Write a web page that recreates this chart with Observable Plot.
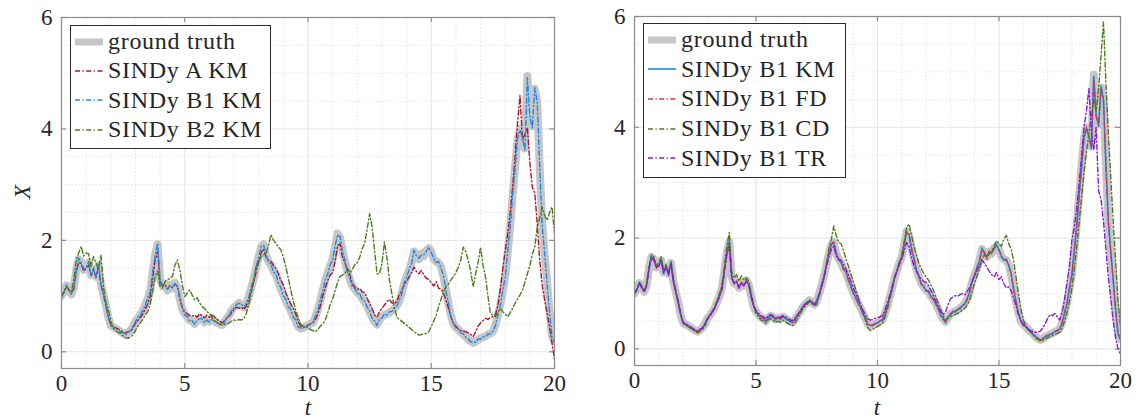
<!DOCTYPE html>
<html>
<head>
<meta charset="utf-8">
<script src="https://cdn.jsdelivr.net/npm/d3@7"></script>
<script src="https://cdn.jsdelivr.net/npm/@observablehq/plot@0.6"></script>
<style>
  body { margin: 0; background: #fff; }
  #wrap { position: relative; width: 1141px; height: 419px; overflow: hidden; font-family: "Liberation Serif", "Times New Roman", "DejaVu Serif", serif; color: #262626; }
  #wrap > .panel { position: absolute; top: 0; }
  #wrap svg text { font-family: "Liberation Serif", "Times New Roman", "DejaVu Serif", serif; }
  .legend { position: absolute; background: #fff; border: 1px solid #2b2b2b; box-sizing: border-box; padding: 1px 0 0 3px; }
  .legend .row { height: 29.4px; display: flex; align-items: center; font-size: 24px; letter-spacing: 0.7px; white-space: nowrap; }
  .legend .row svg { flex: none; margin-right: 4px; }
  .lab { position: absolute; font-style: italic; font-size: 23px; line-height: 0.75; }
</style>
</head>
<body>
<div id="wrap"></div>
<script>
// sample step of all series (t = index * dt, from 0 to 20)
const dt = 0.1;
const xTicks = [0, 5, 10, 15, 20];
const yTicks = [0, 2, 4, 6];
const xMinor = [1, 2, 3, 4, 6, 7, 8, 9, 11, 12, 13, 14, 16, 17, 18, 19];
const yMinor = [0.5, 1, 1.5, 2.5, 3, 3.5, 4.5, 5, 5.5];

const groundTruth = [1.00,1.08,1.19,1.12,1.03,1.15,1.48,1.66,1.62,1.47,
 1.52,1.60,1.38,1.49,1.35,1.55,1.22,1.02,0.84,0.62,
 0.47,0.44,0.42,0.39,0.36,0.33,0.31,0.35,0.38,0.45,
 0.55,0.60,0.67,0.74,0.85,0.95,1.10,1.42,1.75,1.93,
 1.30,1.18,1.22,1.10,1.20,1.14,1.24,1.16,0.95,0.76,
 0.68,0.62,0.57,0.55,0.50,0.56,0.60,0.58,0.53,0.56,
 0.54,0.58,0.56,0.52,0.50,0.48,0.53,0.60,0.66,0.74,
 0.80,0.83,0.88,0.84,0.80,0.86,1.00,1.15,1.32,1.52,
 1.72,1.88,1.93,1.72,1.62,1.56,1.45,1.38,1.25,1.13,
 1.02,0.92,0.83,0.74,0.64,0.55,0.45,0.42,0.43,0.45,
 0.47,0.50,0.52,0.63,0.76,0.92,1.10,1.28,1.42,1.55,
 1.66,1.88,2.12,2.05,1.82,1.62,1.44,1.30,1.18,1.12,
 1.06,1.03,0.95,0.89,0.82,0.72,0.62,0.54,0.49,0.56,
 0.63,0.66,0.68,0.70,0.74,0.77,0.83,0.90,1.05,1.22,
 1.35,1.46,1.60,1.80,1.74,1.66,1.76,1.72,1.82,1.86,
 1.80,1.66,1.62,1.60,1.52,1.34,1.10,0.85,0.65,0.50,
 0.44,0.40,0.35,0.31,0.27,0.22,0.19,0.16,0.18,0.22,
 0.24,0.26,0.28,0.31,0.33,0.36,0.48,0.64,0.84,1.08,
 1.35,1.78,2.24,2.78,3.31,3.80,4.00,3.82,3.65,4.95,
 4.20,4.05,4.72,4.50,3.30,2.30,1.75,1.25,0.70,0.28,
 0.18];

const sindyA_KM = [1.00,1.07,1.17,1.11,1.04,1.13,1.44,1.60,1.58,1.45,
 1.50,1.56,1.37,1.46,1.34,1.52,1.21,1.03,0.83,0.63,
 0.48,0.45,0.43,0.41,0.38,0.35,0.34,0.36,0.37,0.43,
 0.51,0.56,0.62,0.68,0.77,0.86,1.00,1.32,1.65,1.80,
 1.26,1.18,1.20,1.12,1.19,1.15,1.22,1.17,0.98,0.80,
 0.72,0.68,0.65,0.64,0.66,0.62,0.68,0.65,0.61,0.66,
 0.62,0.66,0.63,0.58,0.56,0.52,0.55,0.60,0.64,0.70,
 0.76,0.80,0.78,0.80,0.76,0.82,0.94,1.10,1.25,1.44,
 1.62,1.78,1.85,1.70,1.64,1.62,1.55,1.50,1.40,1.28,
 1.20,1.06,0.95,0.86,0.78,0.68,0.55,0.46,0.44,0.45,
 0.48,0.50,0.53,0.58,0.68,0.82,1.00,1.15,1.28,1.38,
 1.42,1.62,1.90,1.94,1.70,1.60,1.45,1.38,1.22,1.16,
 1.12,1.14,1.08,1.06,0.96,0.87,0.78,0.66,0.62,0.72,
 0.78,0.84,0.90,0.94,0.88,0.86,0.90,1.02,1.10,1.20,
 1.26,1.34,1.42,1.52,1.44,1.40,1.46,1.38,1.32,1.30,
 1.24,1.18,1.26,1.14,1.12,1.05,0.92,0.78,0.62,0.51,
 0.46,0.40,0.38,0.37,0.36,0.34,0.31,0.27,0.36,0.46,
 0.52,0.56,0.60,0.58,0.62,0.63,0.66,0.82,1.12,1.48,
 1.80,2.10,2.48,2.95,3.50,4.10,4.60,3.80,3.90,4.02,
 3.40,2.95,2.85,2.30,1.64,1.20,0.93,0.70,0.45,0.15,
 -0.15];

const sindyB1_KM = [1.00,1.06,1.20,1.10,1.04,1.17,1.45,1.68,1.60,1.49,
 1.50,1.62,1.36,1.51,1.33,1.57,1.20,1.04,0.82,0.63,
 0.46,0.45,0.41,0.40,0.35,0.34,0.30,0.36,0.37,0.46,
 0.54,0.62,0.66,0.75,0.84,0.97,1.08,1.44,1.73,1.95,
 1.28,1.20,1.21,1.12,1.18,1.16,1.22,1.18,0.93,0.78,
 0.66,0.63,0.55,0.56,0.49,0.57,0.59,0.60,0.52,0.57,
 0.53,0.59,0.55,0.53,0.49,0.49,0.52,0.61,0.65,0.75,
 0.79,0.85,0.87,0.86,0.79,0.88,0.98,1.17,1.30,1.54,
 1.70,1.90,1.91,1.74,1.60,1.58,1.43,1.40,1.23,1.15,
 1.00,0.94,0.81,0.76,0.62,0.57,0.44,0.43,0.42,0.46,
 0.46,0.51,0.51,0.65,0.74,0.94,1.08,1.30,1.40,1.57,
 1.64,1.90,2.10,2.07,1.80,1.64,1.42,1.32,1.16,1.14,
 1.04,1.05,0.93,0.91,0.80,0.74,0.60,0.56,0.47,0.58,
 0.61,0.68,0.66,0.72,0.72,0.79,0.81,0.92,1.03,1.24,
 1.33,1.48,1.58,1.82,1.72,1.68,1.74,1.74,1.80,1.88,
 1.78,1.68,1.60,1.62,1.50,1.36,1.08,0.87,0.63,0.52,
 0.42,0.41,0.34,0.32,0.26,0.23,0.18,0.17,0.17,0.23,
 0.23,0.27,0.27,0.32,0.32,0.37,0.46,0.66,0.82,1.10,
 1.33,1.80,2.22,2.80,3.28,3.82,3.98,3.84,3.62,4.92,
 4.22,4.02,4.74,4.48,3.32,2.28,1.77,1.23,0.72,0.26,
 0.16];

const sindyB2_KM = [0.98,1.08,1.17,1.12,1.08,1.30,1.65,1.78,1.89,1.72,
 1.77,1.76,1.53,1.71,1.60,1.47,1.74,1.17,0.90,0.75,
 0.55,0.42,0.38,0.35,0.33,0.28,0.25,0.24,0.27,0.30,
 0.38,0.46,0.52,0.58,0.66,0.72,0.85,1.10,1.35,1.45,
 1.18,1.14,1.26,1.29,1.32,1.35,1.55,1.65,1.47,1.20,
 0.99,1.05,1.11,1.02,0.93,0.97,0.88,0.81,0.78,0.72,
 0.69,0.62,0.56,0.52,0.50,0.48,0.49,0.50,0.52,0.55,
 0.57,0.56,0.58,0.57,0.60,0.69,0.85,1.05,1.30,1.53,
 1.62,1.71,1.74,1.77,1.92,2.10,2.00,1.95,1.88,1.83,
 1.70,1.53,1.32,1.11,0.92,0.75,0.62,0.50,0.46,0.45,
 0.43,0.40,0.38,0.36,0.40,0.46,0.50,0.57,0.70,0.85,
 0.95,1.10,1.25,1.35,1.38,1.40,1.50,1.42,1.48,1.56,
 1.60,1.70,1.85,1.95,2.20,2.48,2.24,1.82,1.40,1.40,
 1.58,1.97,1.70,1.30,1.05,0.80,0.63,0.58,0.55,0.51,
 0.48,0.44,0.40,0.36,0.33,0.30,0.31,0.32,0.33,0.36,
 0.45,0.55,0.66,0.81,0.95,1.08,1.17,1.22,1.29,1.35,
 1.42,1.52,1.65,1.88,1.80,1.64,1.45,1.17,1.40,1.60,
 1.88,1.55,1.35,1.00,0.69,0.66,0.63,0.70,0.78,0.72,
 0.68,0.63,0.70,0.78,0.87,0.95,1.02,1.10,1.25,1.40,
 1.55,1.75,1.88,2.24,2.40,2.60,2.45,2.36,2.50,2.60,
 2.12];

const sindyB1_FD = [1.01,1.07,1.18,1.13,1.02,1.16,1.47,1.65,1.63,1.46,
 1.53,1.59,1.39,1.48,1.36,1.54,1.23,1.01,0.85,0.61,
 0.48,0.43,0.43,0.38,0.37,0.32,0.32,0.34,0.39,0.44,
 0.56,0.59,0.68,0.73,0.86,0.94,1.11,1.41,1.76,1.91,
 1.31,1.17,1.23,1.09,1.21,1.13,1.25,1.15,0.96,0.75,
 0.69,0.61,0.58,0.54,0.51,0.55,0.61,0.57,0.54,0.55,
 0.55,0.57,0.57,0.51,0.51,0.47,0.54,0.59,0.67,0.73,
 0.81,0.82,0.89,0.83,0.81,0.85,1.01,1.14,1.33,1.51,
 1.73,1.87,1.95,1.71,1.63,1.55,1.46,1.37,1.26,1.12,
 1.03,0.91,0.84,0.73,0.65,0.54,0.46,0.41,0.44,0.44,
 0.48,0.49,0.53,0.62,0.77,0.91,1.11,1.27,1.43,1.54,
 1.67,1.87,2.13,2.04,1.83,1.61,1.45,1.29,1.19,1.11,
 1.07,1.02,0.96,0.88,0.83,0.71,0.63,0.53,0.50,0.55,
 0.64,0.65,0.69,0.69,0.75,0.76,0.84,0.89,1.06,1.21,
 1.36,1.45,1.61,1.79,1.75,1.65,1.77,1.71,1.83,1.85,
 1.81,1.65,1.63,1.59,1.53,1.33,1.11,0.84,0.66,0.49,
 0.45,0.39,0.36,0.30,0.28,0.21,0.20,0.15,0.19,0.21,
 0.25,0.25,0.29,0.30,0.34,0.35,0.49,0.63,0.85,1.07,
 1.36,1.77,2.25,2.77,3.32,3.79,4.01,3.81,3.66,4.90,
 4.18,4.07,4.70,4.52,3.28,2.32,1.73,1.27,0.68,0.30,
 0.19];

const sindyB1_CD = [1.00,1.09,1.20,1.14,1.03,1.16,1.50,1.70,1.66,1.50,
 1.55,1.66,1.42,1.52,1.38,1.58,1.28,1.06,0.86,0.62,
 0.46,0.43,0.40,0.37,0.35,0.31,0.29,0.32,0.35,0.42,
 0.52,0.60,0.68,0.76,0.88,1.00,1.16,1.50,1.85,2.10,
 1.40,1.28,1.34,1.22,1.32,1.24,1.28,1.22,1.02,0.80,
 0.64,0.58,0.52,0.50,0.46,0.52,0.55,0.52,0.48,0.50,
 0.48,0.52,0.50,0.46,0.44,0.42,0.46,0.54,0.62,0.70,
 0.76,0.80,0.86,0.82,0.78,0.80,0.95,1.12,1.30,1.55,
 1.80,1.98,2.22,2.05,1.92,1.90,1.78,1.62,1.50,1.36,
 1.22,1.08,0.94,0.80,0.66,0.52,0.38,0.33,0.35,0.38,
 0.40,0.43,0.46,0.56,0.70,0.88,1.06,1.26,1.42,1.56,
 1.70,1.95,2.20,2.25,2.05,1.85,1.70,1.55,1.45,1.36,
 1.30,1.24,1.15,1.06,0.95,0.82,0.70,0.60,0.52,0.55,
 0.58,0.60,0.62,0.64,0.67,0.70,0.74,0.80,0.90,1.05,
 1.20,1.32,1.45,1.62,1.70,1.62,1.72,1.78,1.85,1.95,
 1.90,1.85,1.98,2.05,1.90,1.80,1.60,1.30,1.00,0.72,
 0.52,0.42,0.36,0.30,0.25,0.20,0.17,0.14,0.15,0.18,
 0.20,0.22,0.24,0.26,0.28,0.30,0.38,0.50,0.66,0.86,
 1.10,1.45,1.85,2.30,2.74,3.20,3.55,3.90,4.20,4.50,
 4.30,4.70,5.30,5.90,4.80,3.90,3.10,2.30,1.60,0.85,
 0.40];

const sindyB1_TR = [1.00,1.07,1.18,1.11,1.03,1.14,1.46,1.64,1.60,1.46,
 1.50,1.58,1.37,1.47,1.34,1.53,1.22,1.03,0.85,0.63,
 0.48,0.45,0.43,0.40,0.37,0.34,0.32,0.35,0.38,0.45,
 0.54,0.59,0.66,0.73,0.84,0.94,1.08,1.38,1.70,1.85,
 1.28,1.18,1.21,1.10,1.19,1.14,1.22,1.16,0.96,0.78,
 0.70,0.64,0.60,0.58,0.54,0.60,0.62,0.60,0.56,0.58,
 0.57,0.60,0.58,0.55,0.53,0.51,0.55,0.61,0.67,0.74,
 0.80,0.82,0.86,0.83,0.80,0.85,0.98,1.12,1.28,1.48,
 1.66,1.80,1.85,1.68,1.62,1.60,1.52,1.44,1.34,1.22,
 1.10,1.00,0.90,0.80,0.70,0.62,0.54,0.52,0.53,0.55,
 0.56,0.58,0.60,0.70,0.82,0.96,1.12,1.28,1.40,1.52,
 1.62,1.78,1.92,1.84,1.65,1.50,1.40,1.32,1.26,1.22,
 1.20,1.14,1.05,0.96,0.86,0.76,0.68,0.62,0.66,0.80,
 0.90,0.94,0.96,0.95,0.98,1.00,0.98,1.04,1.12,1.22,
 1.32,1.42,1.50,1.60,1.55,1.48,1.40,1.34,1.30,1.38,
 1.25,1.30,1.18,1.10,1.12,1.05,0.92,0.78,0.62,0.50,
 0.45,0.40,0.36,0.33,0.31,0.30,0.30,0.32,0.38,0.45,
 0.55,0.62,0.60,0.64,0.58,0.52,0.66,0.90,1.20,1.50,
 1.96,2.20,2.55,3.00,3.50,4.00,4.30,4.70,3.90,3.60,
 4.00,2.85,2.70,2.30,1.80,1.30,0.90,0.50,0.20,0.00,
 -0.10];

const C = {
  truth: "#c6c6c6", red: "#a8172f", blue: "#1c8ae6", green: "#4b7d18", pink: "#d2334f", purple: "#8b17d6"
};
const DASHDOT = "5,2.5,1.2,2.5";

const leftSeries = [
  {name: "ground truth", values: groundTruth, color: C.truth, width: 8, dash: null},
  {name: "SINDy A KM", values: sindyA_KM, color: C.red, width: 1.4, dash: DASHDOT},
  {name: "SINDy B1 KM", values: sindyB1_KM, color: C.blue, width: 1.4, dash: DASHDOT},
  {name: "SINDy B2 KM", values: sindyB2_KM, color: C.green, width: 1.4, dash: DASHDOT}
];
const rightSeries = [
  {name: "ground truth", values: groundTruth, color: C.truth, width: 8, dash: null},
  {name: "SINDy B1 KM", values: sindyB1_KM, color: C.blue, width: 1.6, dash: null},
  {name: "SINDy B1 FD", values: sindyB1_FD, color: C.pink, width: 1.2, dash: DASHDOT},
  {name: "SINDy B1 CD", values: sindyB1_CD, color: C.green, width: 1.4, dash: DASHDOT},
  {name: "SINDy B1 TR", values: sindyB1_TR, color: C.purple, width: 1.4, dash: DASHDOT}
];

const xDomain = [0, 20], yDomain = [-0.3, 6];
const FONT = "'Liberation Serif', 'Times New Roman', 'DejaVu Serif', serif";

function panel(series, w, h, m) {
  const frameColor = "#8c8c8c";
  const pxX = (xDomain[1] - xDomain[0]) / (w - m.l - m.r);
  const pxY = (yDomain[1] - yDomain[0]) / (h - m.t - m.b);
  const tl = 5; // inward tick length in px
  return Plot.plot({
    width: w, height: h,
    marginLeft: m.l, marginRight: m.r, marginTop: m.t, marginBottom: m.b,
    x: {domain: xDomain, ticks: xTicks, tickSize: 0, tickPadding: 6, label: null, tickFormat: d => String(d)},
    y: {domain: yDomain, ticks: yTicks, tickSize: 0, tickPadding: 9, label: null, tickFormat: d => String(d)},
    style: {fontFamily: FONT, fontSize: "23px", color: "#262626", background: "transparent"},
    marks: [
      Plot.ruleY(yMinor, {stroke: "#dcdcdc", strokeWidth: 0.8, strokeDasharray: "1.5,2"}),
      Plot.ruleX(xMinor, {stroke: "#dcdcdc", strokeWidth: 0.8, strokeDasharray: "1.5,2"}),
      Plot.ruleY(yTicks, {stroke: "#e4e4e4", strokeWidth: 1}),
      Plot.ruleX(xTicks, {stroke: "#e4e4e4", strokeWidth: 1}),
      ...series.map(s => Plot.line(s.values, {
        x: (d, i) => i * dt, y: d => d,
        stroke: s.color, strokeWidth: s.width,
        strokeDasharray: s.dash, strokeLinejoin: "round", strokeLinecap: "round", clip: true
      })),
      Plot.frame({stroke: frameColor, strokeWidth: 1.2}),
      Plot.ruleX(xTicks, {x: d => d, y1: yDomain[0], y2: yDomain[0] + tl * pxY, stroke: frameColor, strokeWidth: 1.2}),
      Plot.ruleX(xTicks, {x: d => d, y1: yDomain[1] - tl * pxY, y2: yDomain[1], stroke: frameColor, strokeWidth: 1.2}),
      Plot.ruleY(yTicks, {y: d => d, x1: xDomain[0], x2: xDomain[0] + tl * pxX, stroke: frameColor, strokeWidth: 1.2}),
      Plot.ruleY(yTicks, {y: d => d, x1: xDomain[1] - tl * pxX, x2: xDomain[1], stroke: frameColor, strokeWidth: 1.2})
    ]
  });
}

function legend(series, box) {
  const div = document.createElement("div");
  div.className = "legend";
  Object.assign(div.style, {left: box.x + "px", top: box.y + "px", width: box.w + "px", height: box.h + "px"});
  for (const s of series) {
    const row = document.createElement("div");
    row.className = "row";
    row.style.height = box.row + "px";
    const svg = d3.create("svg").attr("width", 30).attr("height", 10);
    svg.append("line").attr("x1", 1).attr("x2", 29).attr("y1", 5).attr("y2", 5)
      .attr("stroke", s.color).attr("stroke-width", s.width > 4 ? 7 : Math.max(1.3, s.width))
      .attr("stroke-dasharray", s.dash);
    row.appendChild(svg.node());
    const span = document.createElement("span");
    span.textContent = s.name;
    row.appendChild(span);
    div.appendChild(row);
  }
  return div;
}

const wrap = document.getElementById("wrap");
const left = panel(leftSeries, 570, 419, {l: 61, r: 16, t: 17, b: 51});
left.classList.add("panel"); left.style.left = "0px";
const right = panel(rightSeries, 571, 419, {l: 64, r: 21, t: 16, b: 54});
right.classList.add("panel"); right.style.left = "570px";
wrap.appendChild(left);
wrap.appendChild(right);
wrap.appendChild(legend(leftSeries, {x: 70, y: 25, w: 201, h: 124, row: 29.3}));
wrap.appendChild(legend(rightSeries, {x: 643, y: 23, w: 203, h: 155, row: 29.6}));

function label(text, x, y, rotate) {
  const d = document.createElement("div");
  d.className = "lab";
  d.textContent = text;
  d.style.left = x + "px"; d.style.top = y + "px";
  d.style.transform = "translate(-50%,-50%)" + (rotate ? " rotate(-90deg)" : "");
  wrap.appendChild(d);
}
label("X", 23, 192, true);
label("t", 308, 408, false);
label("t", 877, 408, false);
</script>
</body>
</html>
